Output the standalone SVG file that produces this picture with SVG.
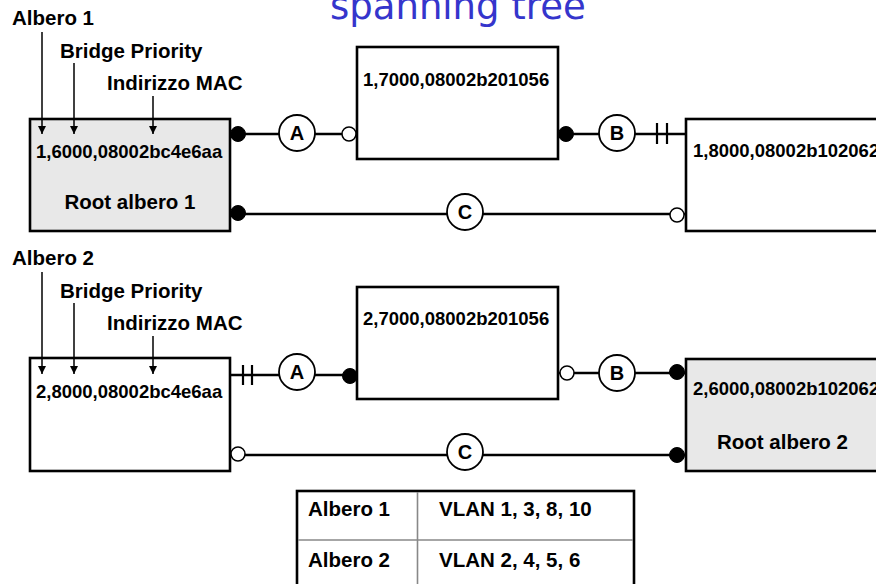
<svg xmlns="http://www.w3.org/2000/svg" width="876" height="584" viewBox="0 0 876 584">
  <style>
    .box { stroke: #000; stroke-width: 2.6; }
    .root { fill: #e8e8e8; }
    .plain { fill: #fff; }
    .lbl { font-family: "Liberation Sans", Arial, sans-serif; font-weight: bold; fill: #000; }
    .big { font-size: 20.5px; }
    .id { font-size: 18.5px; }
    .wire { stroke: #000; stroke-width: 2.4; fill: none; }
    .ptr { stroke: #000; stroke-width: 1.5; fill: none; marker-end: url(#tip); }
    .seg { fill: #fff; stroke: #000; stroke-width: 1.8; }
    .seglbl { font-family: "Liberation Sans", Arial, sans-serif; font-weight: bold; font-size: 20px; text-anchor: middle; }
    .fwd { fill: #000; stroke: #000; stroke-width: 1; }
    .blk { fill: #fff; stroke: #000; stroke-width: 1.5; }
    .bar { stroke: #000; stroke-width: 2.2; }
    .grid { stroke: #888; stroke-width: 1.6; }
  </style>
  <defs>
    <marker id="tip" markerUnits="userSpaceOnUse" markerWidth="8" markerHeight="8" viewBox="0 0 8 8" refX="8" refY="4" orient="auto">
      <path d="M0,0 L8,4 L0,8 Z" fill="#000"/>
    </marker>
  </defs>

  <rect width="876" height="584" fill="#fff"/>

  <!-- heading, partly above the top edge -->
  <text x="330" y="19" font-family="'DejaVu Sans', Verdana, sans-serif" font-size="37" fill="#3535cc">spanning tree</text>

  <!-- tree 1 bridges -->
  <g id="t1-bridge-left">
    <rect class="box root" x="30" y="119" width="200" height="112"/>
    <text class="lbl id" x="36" y="158">1,6000,08002bc4e6aa</text>
    <text class="lbl" x="130" y="209" font-size="20.5" text-anchor="middle">Root albero 1</text>
  </g>
  <g id="t1-bridge-mid">
    <rect class="box plain" x="357" y="47" width="201" height="112"/>
    <text class="lbl id" x="363" y="86">1,7000,08002b201056</text>
  </g>
  <g id="t1-bridge-right">
    <rect class="box plain" x="686" y="119" width="200" height="112"/>
    <text class="lbl id" x="693" y="157">1,8000,08002b102062</text>
  </g>

  <!-- tree 1 legend (drawn over the box so the pointer tips show) -->
  <g id="legend-1">
    <text class="lbl big" x="12" y="25">Albero 1</text>
    <text class="lbl big" x="60" y="58">Bridge Priority</text>
    <text class="lbl big" x="107" y="90">Indirizzo MAC</text>
    <line class="ptr" x1="42" y1="32" x2="42" y2="134"/>
    <line class="ptr" x1="74" y1="63" x2="74" y2="134"/>
    <line class="ptr" x1="153" y1="96" x2="153" y2="134"/>
  </g>

  <!-- tree 2 bridges -->
  <g id="t2-bridge-left">
    <rect class="box plain" x="30" y="358" width="200" height="113"/>
    <text class="lbl id" x="36" y="398">2,8000,08002bc4e6aa</text>
  </g>
  <g id="t2-bridge-mid">
    <rect class="box plain" x="357" y="287" width="201" height="112"/>
    <text class="lbl id" x="363" y="325">2,7000,08002b201056</text>
  </g>
  <g id="t2-bridge-right">
    <rect class="box root" x="686" y="359" width="200" height="112"/>
    <text class="lbl id" x="693" y="395">2,6000,08002b102062</text>
    <text class="lbl" x="717" y="449" font-size="20.5">Root albero 2</text>
  </g>

  <!-- tree 2 legend -->
  <g id="legend-2">
    <text class="lbl big" x="12" y="265">Albero 2</text>
    <text class="lbl big" x="60" y="298">Bridge Priority</text>
    <text class="lbl big" x="107" y="330">Indirizzo MAC</text>
    <line class="ptr" x1="42" y1="272" x2="42" y2="374"/>
    <line class="ptr" x1="74" y1="303" x2="74" y2="374"/>
    <line class="ptr" x1="153" y1="336" x2="153" y2="374"/>
  </g>

  <!-- LAN segments and port states -->
  <g id="connectors">
    <!-- tree 1 -->
    <line class="wire" x1="230" y1="134" x2="357" y2="134"/>
    <line class="wire" x1="558" y1="134" x2="686" y2="134"/>
    <line class="wire" x1="230" y1="214" x2="686" y2="214"/>
    <circle class="fwd" cx="238" cy="134" r="7.5"/>
    <circle class="blk" cx="349" cy="134" r="7"/>
    <circle class="fwd" cx="566" cy="134" r="7.5"/>
    <line class="bar" x1="657" y1="123" x2="657" y2="144"/>
    <line class="bar" x1="667" y1="123" x2="667" y2="144"/>
    <circle class="fwd" cx="238" cy="213" r="7.5"/>
    <circle class="blk" cx="677" cy="215" r="7"/>
    <circle class="seg" cx="297" cy="133" r="18"/>
    <text class="seglbl" x="297" y="140">A</text>
    <circle class="seg" cx="617" cy="133" r="18"/>
    <text class="seglbl" x="617" y="140">B</text>
    <circle class="seg" cx="465" cy="212" r="18"/>
    <text class="seglbl" x="465" y="219">C</text>

    <!-- tree 2 -->
    <line class="wire" x1="230" y1="375" x2="357" y2="375"/>
    <line class="wire" x1="558" y1="373" x2="686" y2="373"/>
    <line class="wire" x1="230" y1="455" x2="686" y2="455"/>
    <line class="bar" x1="243" y1="365" x2="243" y2="385"/>
    <line class="bar" x1="252" y1="365" x2="252" y2="385"/>
    <circle class="fwd" cx="350" cy="376" r="7.5"/>
    <circle class="blk" cx="567" cy="373" r="7"/>
    <circle class="fwd" cx="677" cy="372" r="7.5"/>
    <circle class="blk" cx="238" cy="454" r="7"/>
    <circle class="fwd" cx="677" cy="455" r="7.5"/>
    <circle class="seg" cx="297" cy="372" r="18"/>
    <text class="seglbl" x="297" y="379">A</text>
    <circle class="seg" cx="617" cy="373" r="18"/>
    <text class="seglbl" x="617" y="380">B</text>
    <circle class="seg" cx="465" cy="452" r="18"/>
    <text class="seglbl" x="465" y="459">C</text>
  </g>

  <!-- VLAN to tree mapping -->
  <g id="vlan-table">
    <rect x="297" y="491" width="337" height="100" fill="#fff" stroke="#000" stroke-width="2.6"/>
    <line class="grid" x1="417.5" y1="492" x2="417.5" y2="590"/>
    <line class="grid" x1="298" y1="540" x2="633" y2="540"/>
    <text class="lbl big" x="308" y="516">Albero 1</text>
    <text class="lbl big" x="439" y="516">VLAN 1, 3, 8, 10</text>
    <text class="lbl big" x="308" y="567">Albero 2</text>
    <text class="lbl big" x="439" y="567">VLAN 2, 4, 5, 6</text>
  </g>
</svg>
